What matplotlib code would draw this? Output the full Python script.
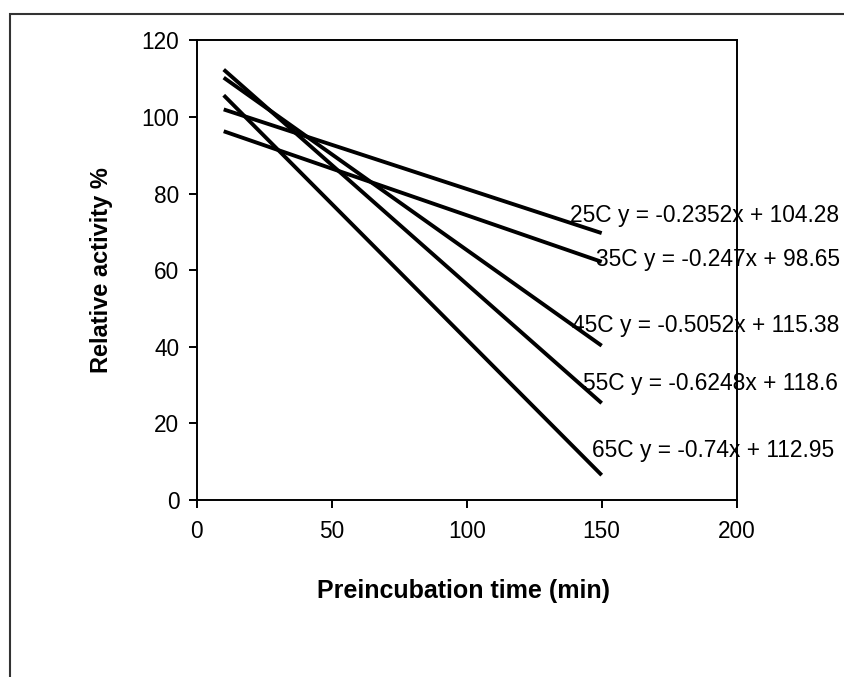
import matplotlib
matplotlib.use("Agg")
import matplotlib.pyplot as plt
from matplotlib.patches import Rectangle

plt.rcParams['font.family'] = ['Liberation Sans', 'DejaVu Sans']

# --- data ---
time_min = [10, 150]
series_names = ['25C', '35C', '45C', '55C', '65C']
activity = {
    '25C': [102.0, 69.7],
    '35C': [96.3, 62.2],
    '45C': [110.3, 40.3],
    '55C': [112.4, 25.3],
    '65C': [105.7, 6.5],
}
equations = {
    '25C': 'y = -0.2352x + 104.28',
    '35C': 'y = -0.247x + 98.65',
    '45C': 'y = -0.5052x + 115.38',
    '55C': 'y = -0.6248x + 118.6',
    '65C': 'y = -0.74x + 112.95',
}
# label anchor (data coords)
label_pos = {
    '25C': (138.3, 74.4),
    '35C': (148.0, 62.7),
    '45C': (139.0, 45.7),
    '55C': (143.0, 30.5),
    '65C': (146.4, 13.0),
}
x_ticks = [0, 50, 100, 150, 200]
y_ticks = [0, 20, 40, 60, 80, 100, 120]

fig = plt.figure(figsize=(8.45, 6.77), dpi=100)
ax = fig.add_axes([0.2328, 0.2614, 0.639, 0.6788])

# outer chart-area frame (only left/top edges fall inside the image)
fig.patches.append(Rectangle((10 / 845, -0.2), 1.5, 1.2 - 14 / 677,
                             transform=fig.transFigure, fill=False,
                             edgecolor='#333333', linewidth=1.5))

for name in series_names:
    ax.plot(time_min, activity[name], color='black', linewidth=2.8,
            solid_capstyle='butt')
    lx, ly = label_pos[name]
    ax.text(lx, ly, f'{name} {equations[name]}', fontsize=16.4, ha='left',
            va='center', clip_on=False, color='black')

ax.set_xlim(0, 200)
ax.set_ylim(0, 120)
ax.set_xticks(x_ticks)
ax.set_yticks(y_ticks)
ax.tick_params(direction='out', length=5.5, width=1.4, labelsize=16.3)
ax.tick_params(axis='y', pad=7)
ax.tick_params(axis='x', pad=9)
for sp in ax.spines.values():
    sp.set_linewidth(1.4)
    sp.set_color('black')

ax.set_xlabel('Preincubation time (min)', fontsize=18, fontweight='bold')
ax.set_ylabel('Relative activity %', fontsize=17, fontweight='bold')
ax.xaxis.set_label_coords(0.495, -0.171)
ax.yaxis.set_label_coords(-0.155, 0.5)

fig.savefig('out.png', dpi=100)
